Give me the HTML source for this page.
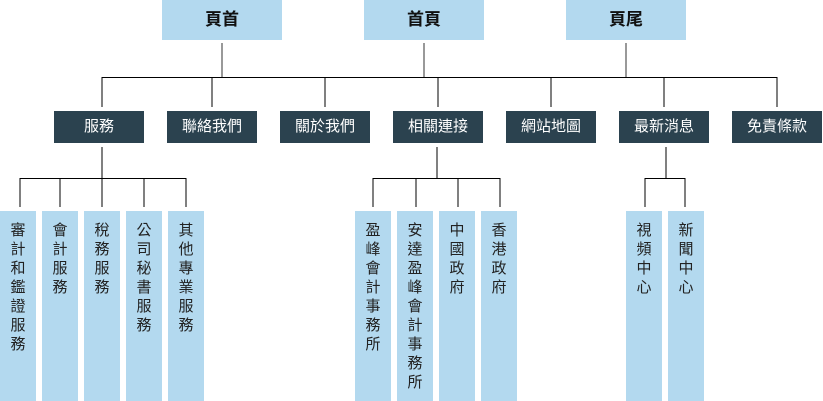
<!DOCTYPE html>
<html><head><meta charset="utf-8"><style>
body{margin:0;width:823px;height:401px;background:#fff;position:relative;overflow:hidden;font-family:"Liberation Sans","Noto Sans CJK TC",sans-serif}
.t{position:absolute;top:0;height:40px;width:120px;background:#b3d9ef;font-weight:bold;font-size:17px;line-height:40px;text-align:center;color:#111}
.d{position:absolute;top:111px;height:32px;width:90px;background:#2b424f;color:#fff;font-size:15px;line-height:32px;text-align:center}
.s{position:absolute;top:211px;height:190px;width:36px;background:#b3d9ef;color:#222;font-size:15px;line-height:19px;text-align:center;padding-top:10px;box-sizing:border-box}
svg{position:absolute;left:0;top:0}
</style></head><body>
<svg width="823" height="401">
<g stroke="#777" stroke-width="1.5" fill="none">
<line x1="222" y1="43" x2="222" y2="77"/>
<line x1="424" y1="43" x2="424" y2="77"/>
<line x1="626" y1="43" x2="626" y2="77"/>
</g>
<g stroke="#000" stroke-width="1" fill="none">
<line x1="102" y1="77.5" x2="777" y2="77.5"/>
<line x1="102" y1="77" x2="102" y2="107"/>
<line x1="212" y1="77" x2="212" y2="107"/>
<line x1="325" y1="77" x2="325" y2="107"/>
<line x1="438" y1="77" x2="438" y2="107"/>
<line x1="551" y1="77" x2="551" y2="107"/>
<line x1="664" y1="77" x2="664" y2="107"/>
<line x1="777" y1="77" x2="777" y2="107"/>
<line x1="102" y1="147" x2="102" y2="178"/>
<line x1="20" y1="178.5" x2="186" y2="178.5"/>
<line x1="20" y1="178" x2="20" y2="207"/>
<line x1="60" y1="178" x2="60" y2="207"/>
<line x1="102" y1="178" x2="102" y2="207"/>
<line x1="144" y1="178" x2="144" y2="207"/>
<line x1="186" y1="178" x2="186" y2="207"/>
<line x1="437" y1="147" x2="437" y2="178"/>
<line x1="373" y1="178.5" x2="500" y2="178.5"/>
<line x1="373" y1="178" x2="373" y2="207"/>
<line x1="416" y1="178" x2="416" y2="207"/>
<line x1="458" y1="178" x2="458" y2="207"/>
<line x1="500" y1="178" x2="500" y2="207"/>
<line x1="666" y1="147" x2="666" y2="178"/>
<line x1="645" y1="178.5" x2="685" y2="178.5"/>
<line x1="645" y1="178" x2="645" y2="207"/>
<line x1="685" y1="178" x2="685" y2="207"/>
</g>
</svg>
<div class="t" style="left:162px">頁首</div>
<div class="t" style="left:364px">首頁</div>
<div class="t" style="left:566px">頁尾</div>
<div class="d" style="left:54px">服務</div>
<div class="d" style="left:167px">聯絡我們</div>
<div class="d" style="left:280px">關於我們</div>
<div class="d" style="left:393px">相關連接</div>
<div class="d" style="left:506px">網站地圖</div>
<div class="d" style="left:619px">最新消息</div>
<div class="d" style="left:732px">免責條款</div>
<div class="s" style="left:0">審<br>計<br>和<br>鑑<br>證<br>服<br>務</div>
<div class="s" style="left:42px">會<br>計<br>服<br>務</div>
<div class="s" style="left:84px">稅<br>務<br>服<br>務</div>
<div class="s" style="left:126px">公<br>司<br>秘<br>書<br>服<br>務</div>
<div class="s" style="left:168px">其<br>他<br>專<br>業<br>服<br>務</div>
<div class="s" style="left:355px">盈<br>峰<br>會<br>計<br>事<br>務<br>所</div>
<div class="s" style="left:397px">安<br>達<br>盈<br>峰<br>會<br>計<br>事<br>務<br>所</div>
<div class="s" style="left:439px">中<br>國<br>政<br>府</div>
<div class="s" style="left:481px">香<br>港<br>政<br>府</div>
<div class="s" style="left:626px">視<br>頻<br>中<br>心</div>
<div class="s" style="left:668px">新<br>聞<br>中<br>心</div>
</body></html>
